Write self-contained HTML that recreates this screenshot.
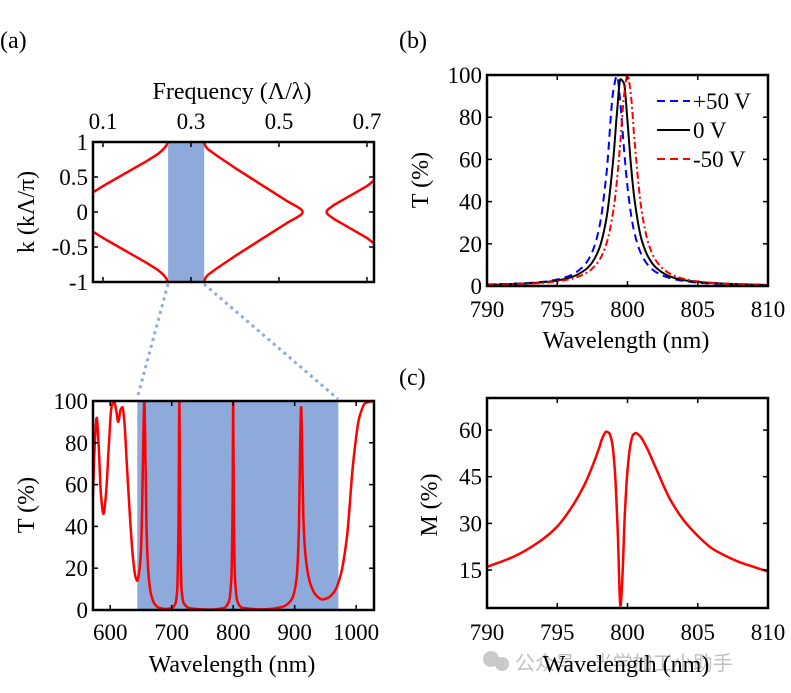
<!DOCTYPE html>
<html><head><meta charset="utf-8">
<style>
html,body{margin:0;padding:0;background:#fff;}
svg{display:block;}
text{font-family:"Liberation Serif","DejaVu Serif",serif;}
.tk{font-size:23px;fill:#000;font-family:"Liberation Serif",serif;}
.ttl{font-size:24px;fill:#000;font-family:"Liberation Serif",serif;}
.wm{font-family:"Liberation Sans","Noto Sans CJK SC",sans-serif;}
</style></head>
<body>
<svg id="fig" width="791" height="693" viewBox="0 0 791 693" xmlns="http://www.w3.org/2000/svg" font-family="Liberation Serif, serif">
<text x="0" y="48" class="ttl" font-size="25">(a)</text>
<text x="399" y="48" class="ttl" font-size="25">(b)</text>
<text x="399" y="385" class="ttl" font-size="25">(c)</text>
<line x1="168" y1="284" x2="137" y2="399" stroke="#8eaadb" stroke-width="3" stroke-dasharray="3,4"/>
<line x1="204" y1="284" x2="338" y2="399" stroke="#8eaadb" stroke-width="3" stroke-dasharray="3,4"/>
<g opacity="0.45">
<circle cx="491" cy="659" r="8" fill="#888"/><circle cx="502" cy="664" r="7" fill="#888"/>
<text x="515" y="670" class="wm" font-size="20" fill="#777">公众号 · 光学加工小助手</text>
</g>
</svg>
<script>
// Panel (a) top: band structure
const band1Freq=[0.077,0.10,0.15,0.20,0.225,0.238,0.244,0.247,0.248];
const band1K=[0.28,0.37,0.55,0.73,0.83,0.90,0.95,0.99,1];
const band2Freq=[0.330,0.332,0.338,0.36,0.40,0.45,0.50,0.52,0.54,0.55,0.555];
const band2K=[1,0.95,0.90,0.80,0.63,0.43,0.23,0.15,0.08,0.04,0];
const band3Freq=[0.607,0.612,0.625,0.65,0.70,0.716];
const band3K=[0,0.04,0.10,0.19,0.37,0.45];
const gapFreq=[0.248,0.330];
const freqTicks=[0.1,0.3,0.5,0.7];
const kTicks=[-1,-0.5,0,0.5,1];
const kTickLabels=["-1","-0.5","0","0.5","1"];
// Panel (a) bottom: transmission
const wlA=[572,575,578,581,585,589,593,598,602,606,610,613,617,620,623,627,632,637,641,644,647,650,652,654,655.5,657,659,662,666,672,680,690,700,706,709,711,712.5,714,716,720,730,760,785,793,797,799,800,801,803,807,815,850,880,895,903,907,909,910.5,912,914,918,925,935,945,955,965,975,985,995,1005,1015,1029];
const tA=[55,80,92,80,55,46,55,80,97,100,95,90,96,97,90,70,45,25,16,14,18,28,50,85,100,80,40,18,8,3,1,0.5,1,3,10,40,100,40,10,3,0.8,0.2,1,4,15,50,100,50,15,4,1,0.3,1.5,5,15,40,80,97,80,45,25,13,7,5,6,9,17,35,70,92,99,100];
const bandRegion=[644,971];
const wlATicks=[600,700,800,900,1000];
const tTicks=[0,20,40,60,80,100];
// Panel (b)
const wlB=[790,792,794,795,796,797,797.5,798,798.5,799,799.25,799.5,799.75,800,800.25,800.5,801,801.5,802,803,804,805,806,808,810];
const tPlus50=[0.7,1.1,2.0,3.1,5.2,10.4,16.3,28,53,93,99.5,86,65,47,34,25,14.8,9.6,6.7,3.8,2.4,1.6,1.2,0.7,0.5];
const tZero=[0.6,1.0,1.8,2.6,4.2,7.7,11.3,18,32,61,82,98,96,78,57,41,22,13.5,8.9,4.6,2.8,1.9,1.4,0.8,0.5];
const tMinus50=[0.55,0.9,1.5,2.2,3.4,5.9,8.3,12.3,20,36,50,69,90,100,90,69,36,20,12.3,5.9,3.4,2.2,1.5,0.9,0.55];
const wlBTicks=[790,795,800,805,810];
// Panel (c)
const wlC=[790,792,794,795,796,797,797.6,798,798.2,798.5,798.7,798.9,799.1,799.3,799.5,799.65,799.8,800,800.2,800.4,800.6,800.9,801.3,802,803,804,805,806,807,808,809,810];
const mC=[16,19.5,25,29,35,43,49.5,54.5,57.3,59.5,59,56,47,28,3.5,14,32,47,55,58.5,59,58,55,48,38,31,26,22,19.5,17.5,16,14.5];
const mTicks=[15,30,45,60];

const NS="http://www.w3.org/2000/svg";
const svg=document.getElementById('fig');
function el(tag,attrs,parent){const e=document.createElementNS(NS,tag);for(const k in attrs)e.setAttribute(k,attrs[k]);(parent||svg).appendChild(e);return e;}
function scale(d0,d1,r0,r1){return v=>r0+(v-d0)/(d1-d0)*(r1-r0);}

function axesBox(g,x0,y0,x1,y1,name){
  const r=el('rect',{x:x0,y:y0,width:x1-x0,height:y1-y0,fill:'none',stroke:'#000','stroke-width':2.5},g);
  
  
}
function xTicks(g,vals,labels,sx,y0,y1,labelY,name){
  vals.forEach((v,i)=>{
    const x=sx(v);
    el('line',{x1:x,y1:y1,x2:x,y2:y1-5,stroke:'#000','stroke-width':1.5},g);
    el('line',{x1:x,y1:y0,x2:x,y2:y0+5,stroke:'#000','stroke-width':1.5},g);
    if(labels){const t=el('text',{x:x,y:labelY,'text-anchor':'middle',class:'tk'},g);t.textContent=labels[i];
      
      }
  });
}
function yTicks(g,vals,labels,sy,x0,x1,name){
  vals.forEach((v,i)=>{
    const y=sy(v);
    el('line',{x1:x0,y1:y,x2:x0+5,y2:y,stroke:'#000','stroke-width':1.5},g);
    el('line',{x1:x1,y1:y,x2:x1-5,y2:y,stroke:'#000','stroke-width':1.5},g);
    const t=el('text',{x:x0-5,y:y+8,'text-anchor':'end',class:'tk'},g);t.textContent=labels[i];
    
    
  });
}
function smoothPath(P){
  const n=P.length;
  const dx=[],m=[],t=[];
  for(let i=0;i<n-1;i++){dx[i]=P[i+1][0]-P[i][0];m[i]=dx[i]===0?0:(P[i+1][1]-P[i][1])/dx[i];}
  t[0]=m[0];t[n-1]=m[n-2];
  for(let i=1;i<n-1;i++){t[i]=(m[i-1]*m[i]<=0)?0:(3*(dx[i-1]+dx[i]))/((2*dx[i]+dx[i-1])/m[i-1]+(dx[i]+2*dx[i-1])/m[i]);}
  let d='M'+P[0][0].toFixed(2)+','+P[0][1].toFixed(2);
  for(let i=0;i<n-1;i++){
    const h=dx[i]/3;
    d+='C'+(P[i][0]+h).toFixed(2)+','+(P[i][1]+t[i]*h).toFixed(2)+' '+(P[i+1][0]-h).toFixed(2)+','+(P[i+1][1]-t[i+1]*h).toFixed(2)+' '+P[i+1][0].toFixed(2)+','+P[i+1][1].toFixed(2);
  }
  return d;
}
function line(g,xs,ys,sx,sy,attrs,name,smooth){
  const P=xs.map((x,i)=>[sx(x),sy(ys[i])]);
  const d=smooth?smoothPath(P):'M'+P.map(p=>p[0].toFixed(2)+','+p[1].toFixed(2)).join('L');
  const a=Object.assign({d:d,fill:'none','stroke-linejoin':'round'},attrs);
  const p=el('path',a,g);
  
  
  return p;
}
function title(g,txt,x,y,rot,name){
  const t=el('text',{x:x,y:y,'text-anchor':'middle',class:'ttl'},g);
  if(rot)t.setAttribute('transform','rotate(-90 '+x+' '+y+')');
  t.textContent=txt;
  
  
}

// ---- Panel a top
{
  const g=el('g',{});
  
  
  const X0=93,X1=374,Y0=142,Y1=282;
  const sx=scale(0.0773,0.716,X0,X1), sy=scale(-1,1,Y1,Y0);
  const gap=el('rect',{x:sx(gapFreq[0]),y:Y0,width:sx(gapFreq[1])-sx(gapFreq[0]),height:Y1-Y0,fill:'#8eaadb'},g);
  
  
  const st={stroke:'#ff0000','stroke-width':2.5};
  line(g,band1Freq,band1K,sx,sy,st,'band1-upper',false);
  line(g,band1Freq,band1K.map(k=>-k),sx,sy,st,'band1-lower',false);
  line(g,band2Freq,band2K,sx,sy,st,'band2-upper',false);
  line(g,band2Freq,band2K.map(k=>-k),sx,sy,st,'band2-lower',false);
  line(g,band3Freq,band3K,sx,sy,st,'band3-upper',false);
  line(g,band3Freq,band3K.map(k=>-k),sx,sy,st,'band3-lower',false);
  axesBox(g,X0,Y0,X1,Y1,'band-structure');
  xTicks(g,freqTicks,freqTicks.map(String),sx,Y0,Y1,129,'frequency');
  yTicks(g,kTicks,kTickLabels,sy,X0,X1,'k');
  title(g,'Frequency (Λ/λ)',232,99,false,'frequency-axis-title');
  title(g,'k (kΛ/π)',34,212,true,'k-axis-title');
}
// ---- Panel a bottom
{
  const g=el('g',{});
  
  
  const X0=93,X1=374,Y0=401,Y1=610;
  const sx=scale(572,1029,X0,X1), sy=scale(0,100,Y1,Y0);
  const r=el('rect',{x:sx(bandRegion[0]),y:Y0,width:sx(bandRegion[1])-sx(bandRegion[0]),height:Y1-Y0,fill:'#8eaadb'},g);
  
  
  line(g,wlA,tA,sx,sy,{stroke:'#ff0000','stroke-width':2.5},'transmission-curve',true);
  axesBox(g,X0,Y0,X1,Y1,'transmission-broad');
  xTicks(g,wlATicks,wlATicks.map(String),sx,Y0,Y1,640,'wavelength');
  yTicks(g,tTicks,tTicks.map(String),sy,X0,X1,'t');
  title(g,'Wavelength (nm)',232,672,false,'x-axis-title');
  title(g,'T (%)',34,505,true,'y-axis-title');
}
// ---- Panel b
{
  const g=el('g',{});
  
  
  const X0=487,X1=768,Y0=75,Y1=286;
  const sx=scale(790,810,X0,X1), sy=scale(0,100,Y1,Y0);
  line(g,wlB,tPlus50,sx,sy,{stroke:'#0000ff','stroke-width':2,'stroke-dasharray':'8,5'},'series-plus50v',true);
  line(g,wlB,tZero,sx,sy,{stroke:'#000','stroke-width':2},'series-0v',true);
  line(g,wlB,tMinus50,sx,sy,{stroke:'#ff0000','stroke-width':2,'stroke-dasharray':'7,3,2,3'},'series-minus50v',true);
  axesBox(g,X0,Y0,X1,Y1,'voltage-transmission');
  xTicks(g,wlBTicks,wlBTicks.map(String),sx,Y0,Y1,317,'wavelength');
  yTicks(g,tTicks,tTicks.map(String),sy,X0,X1,'t');
  title(g,'Wavelength (nm)',626,348,false,'x-axis-title');
  title(g,'T (%)',428,180,true,'y-axis-title');
  const leg=[['+50 V','#0000ff','8,5',101],['0 V','#000','',130],['-50 V','#ff0000','8,5',159]];
  leg.forEach(l=>{
    const lg=el('g',{},g);
    
    
    const a={x1:657,y1:l[3],x2:690,y2:l[3],stroke:l[1],'stroke-width':2};
    if(l[2])a['stroke-dasharray']=l[2];
    el('line',a,lg);
    const t=el('text',{x:693,y:l[3]+8,class:'tk'},lg);t.textContent=l[0];
  });
}
// ---- Panel c
{
  const g=el('g',{});
  
  
  const X0=487,X1=768,Y0=398,Y1=608;
  const sx=scale(790,810,X0,X1), sy=scale(2.8,70.3,Y1,Y0);
  line(g,wlC,mC,sx,sy,{stroke:'#ff0000','stroke-width':2.5},'modulation-curve',true);
  axesBox(g,X0,Y0,X1,Y1,'modulation');
  xTicks(g,wlBTicks,wlBTicks.map(String),sx,Y0,Y1,640,'wavelength');
  yTicks(g,mTicks,mTicks.map(String),sy,X0,X1,'m');
  title(g,'Wavelength (nm)',626,672,false,'x-axis-title');
  title(g,'M (%)',437,505,true,'y-axis-title');
}
</script>
</body></html>
